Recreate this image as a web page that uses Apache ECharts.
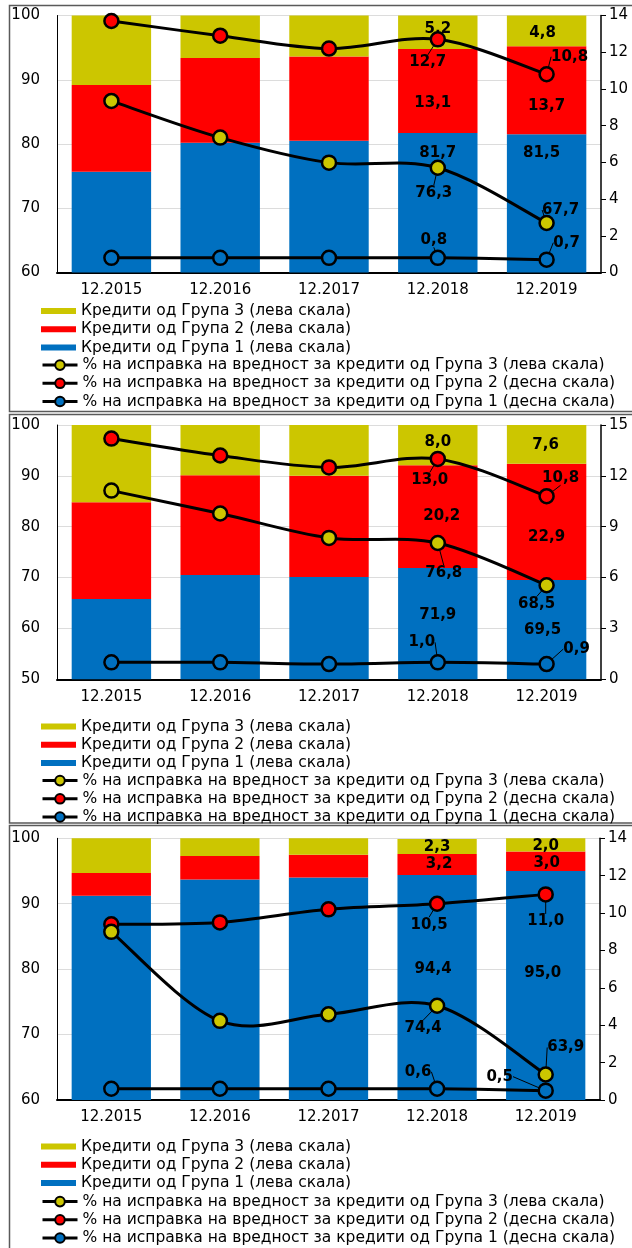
<!DOCTYPE html>
<html><head><meta charset="utf-8">
<script src="https://cdn.jsdelivr.net/npm/echarts@6/dist/echarts.min.js"></script>
<style>html,body{margin:0;padding:0;background:#fff}#c{width:632px;height:1248px}</style>
</head><body><div id="c"></div>
<script>
// ---------- DATA ----------
const categories = ['12.2015', '12.2016', '12.2017', '12.2018', '12.2019'];

const legendBars = ['Кредити од Група 3 (лева скала)', 'Кредити од Група 2 (лева скала)', 'Кредити од Група 1 (лева скала)'];
const legendLines = ['% на исправка на вредност за кредити од Група 3 (лева скала)',
  '% на исправка на вредност за кредити од Група 2 (десна скала)',
  '% на исправка на вредност за кредити од Група 1 (десна скала)'];

// Panel 1
const p1Group1 = [75.7, 80.2, 80.5, 81.7, 81.5];
const p1Group2 = [13.5, 13.2, 13.1, 13.1, 13.7];
const p1Group3 = [10.8, 6.6, 6.4, 5.2, 4.8];
const p1Prov3 = [86.7, 81.0, 77.1, 76.3, 67.7];
const p1Prov2 = [13.7, 12.9, 12.2, 12.7, 10.8];
const p1Prov1 = [0.8, 0.8, 0.8, 0.8, 0.7];
const p1LeftTicks = [60, 70, 80, 90, 100];
const p1RightTicks = [0, 2, 4, 6, 8, 10, 12, 14];

// Panel 2
const p2Group1 = [65.8, 70.5, 70.1, 71.9, 69.5];
const p2Group2 = [19.0, 19.6, 19.9, 20.2, 22.9];
const p2Group3 = [15.2, 9.9, 10.0, 8.0, 7.6];
const p2Prov3 = [87.1, 82.6, 77.8, 76.8, 68.5];
const p2Prov2 = [14.2, 13.2, 12.5, 13.0, 10.8];
const p2Prov1 = [1.0, 1.0, 0.9, 1.0, 0.9];
const p2LeftTicks = [50, 60, 70, 80, 90, 100];
const p2RightTicks = [0, 3, 6, 9, 12, 15];

// Panel 3
const p3Group1 = [91.2, 93.7, 94.0, 94.4, 95.0];
const p3Group2 = [3.5, 3.6, 3.5, 3.2, 3.0];
const p3Group3 = [5.3, 2.7, 2.5, 2.3, 2.0];
const p3Prov3 = [85.7, 72.1, 73.1, 74.4, 63.9];
const p3Prov2 = [9.4, 9.5, 10.2, 10.5, 11.0];
const p3Prov1 = [0.6, 0.6, 0.6, 0.6, 0.5];
const p3LeftTicks = [60, 70, 80, 90, 100];
const p3RightTicks = [0, 2, 4, 6, 8, 10, 12, 14];

// ---------- STYLE / LAYOUT ----------
const FONT = 'DejaVu Sans';
const C_YEL = '#CCC600', C_RED = '#FF0000', C_BLUE = '#0070C0';

const panels = [
  { g1: p1Group1, g2: p1Group2, g3: p1Group3, l3: p1Prov3, l2: p1Prov2, l1: p1Prov1, lt: p1LeftTicks, rt: p1RightTicks,
    top: 15.5, height: 257, right: 31, legTop: 302, legLineTop: 356, frame: [9.5, 5.5, 700, 406],
    barOff: { g3: [[0, -3], [-4, 2]], g2: [[-5, 12], [0, 16]], g1: [[0, -49.5], [-5, -50]] },
    lineOff: { l3: [[-4, 25], [14, -13]], l2: [[-10, 23], [23, -17.5]], l1: [[-4, -18], [20, -17]] } },
  { g1: p2Group1, g2: p2Group2, g3: p2Group3, l3: p2Prov3, l2: p2Prov2, l1: p2Prov1, lt: p2LeftTicks, rt: p2RightTicks,
    top: 425, height: 254.3, right: 31, legTop: 717.5, legLineTop: 771.5, frame: [9.5, 414.5, 700, 408.5],
    barOff: { g3: [[0, -3], [-1, 1]], g2: [[4, 0], [0, 15]], g1: [[0, -8], [-4, 0]] },
    lineOff: { l3: [[6, 30], [-10, 19]], l2: [[-8, 21], [14, -18.5]], l1: [[-16, -20], [30, -15]] } },
  { g1: p3Group1, g2: p3Group2, g3: p3Group3, l3: p3Prov3, l2: p3Prov2, l1: p3Prov1, lt: p3LeftTicks, rt: p3RightTicks,
    top: 838.3, height: 261.7, right: 32, legTop: 1137.5, legLineTop: 1192.5, frame: [9.5, 825.5, 700, 500],
    barOff: { g3: [[0, 1], [0, 1.5]], g2: [[2, 0], [1, 2]], g1: [[-4, -18], [-3, -12]] },
    lineOff: { l3: [[-14, 22], [20, -27]], l2: [[-8, 21], [0, 27]], l1: [[-19, -17], [-46, -14]] } }
];

function fmt(v) { return v.toFixed(1).replace('.', ','); }
const labelFont = { color: '#000', fontWeight: 'bold', fontSize: 15, fontFamily: FONT, textBorderWidth: 0 };

const grids = [], xAxes = [], yAxes = [], series = [], legends = [], graphics = [];

panels.forEach((P, p) => {
  grids.push({ left: 57, right: P.right, top: P.top, height: P.height });
  xAxes.push({
    type: 'category', gridIndex: p, data: categories,
    axisLine: { show: true, lineStyle: { color: '#000', width: 2 } },
    axisTick: { show: false },
    axisLabel: { color: '#000', fontSize: 15, fontFamily: FONT, margin: 10 }
  });
  const lt = P.lt, rt = P.rt;
  yAxes.push({
    type: 'value', gridIndex: p, position: 'left',
    min: lt[0], max: lt[lt.length - 1], interval: lt[1] - lt[0],
    axisLine: { show: true, lineStyle: { color: '#000', width: 1 } },
    axisTick: { show: false },
    axisLabel: { color: '#000', fontSize: 15, fontFamily: FONT, margin: 17 },
    splitLine: { show: true, lineStyle: { color: '#dcdcdc', width: 1 } }
  });
  yAxes.push({
    type: 'value', gridIndex: p, position: 'right',
    min: rt[0], max: rt[rt.length - 1], interval: rt[1] - rt[0],
    axisLine: { show: true, lineStyle: { color: '#000', width: 1.5 } },
    axisTick: { show: true, inside: false, length: 5, lineStyle: { color: '#000' } },
    axisLabel: { color: '#000', fontSize: 15, fontFamily: FONT, margin: 8 },
    splitLine: { show: false }
  });
  const yl = 2 * p, yr = 2 * p + 1;

  function bar(name, vals, color, offs) {
    return {
      type: 'bar', name, stack: 'st' + p, xAxisIndex: p, yAxisIndex: yl, barCategoryGap: '27%', z: 2,
      itemStyle: { color }, emphasis: { disabled: true },
      label: Object.assign({ show: false, position: 'inside' }, labelFont),
      data: vals.map((v, i) => i >= 3
        ? { value: v, label: Object.assign({ show: true, position: 'inside', offset: offs[i - 3], formatter: fmt(v) }, labelFont) }
        : v)
    };
  }
  series.push(bar(legendBars[2], P.g1, C_BLUE, P.barOff.g1));
  series.push(bar(legendBars[1], P.g2, C_RED, P.barOff.g2));
  series.push(bar(legendBars[0], P.g3, C_YEL, P.barOff.g3));

  function curve(vals, yi) {
    const n = vals.length;
    const cl = k => Math.max(0, Math.min(n - 1, k));
    return {
      type: 'custom', xAxisIndex: p, yAxisIndex: yi, z: 4, silent: true,
      data: vals.map((v, i) => [i, v]),
      renderItem: (params, api) => {
        const i = params.dataIndex;
        if (i >= n - 1) return null;
        const pt = k => api.coord([cl(k), vals[cl(k)]]);
        const a = pt(i - 1), b = pt(i), c = pt(i + 1), d = pt(i + 2);
        return {
          type: 'bezierCurve',
          shape: {
            x1: b[0], y1: b[1], x2: c[0], y2: c[1],
            cpx1: b[0] + (c[0] - a[0]) / 6, cpy1: b[1] + (c[1] - a[1]) / 6,
            cpx2: c[0] - (d[0] - b[0]) / 6, cpy2: c[1] - (d[1] - b[1]) / 6
          },
          style: { stroke: '#000', lineWidth: 3, fill: 'none', lineCap: 'round' }
        };
      }
    };
  }
  function points(name, vals, yi, fill, offs) {
    return {
      type: 'line', name, xAxisIndex: p, yAxisIndex: yi, z: 5,
      symbol: 'circle', symbolSize: 14, showSymbol: true,
      lineStyle: { width: 0, color: '#000' },
      itemStyle: { color: fill, borderColor: '#000', borderWidth: 2.5 },
      emphasis: { disabled: true },
      label: Object.assign({ show: false, position: 'inside', formatter: pr => fmt(pr.value) }, labelFont),
      labelLine: { show: true, lineStyle: { color: '#000', width: 1 } },
      labelLayout: pr => {
        if (pr.dataIndex < 3) return {};
        const o = offs[pr.dataIndex - 3];
        return { dx: o[0], dy: o[1] };
      },
      data: vals.map((v, i) => i >= 3 ? { value: v, label: { show: true } } : v)
    };
  }
  series.push(curve(P.l1, yr));
  series.push(curve(P.l2, yr));
  series.push(curve(P.l3, yl));
  series.push(points(legendLines[2], P.l1, yr, C_BLUE, P.lineOff.l1));
  series.push(points(legendLines[1], P.l2, yr, C_RED, P.lineOff.l2));
  series.push(points(legendLines[0], P.l3, yl, C_YEL, P.lineOff.l3));

  legends.push({
    orient: 'vertical', left: 41, top: P.legTop, itemWidth: 35, itemHeight: 6, itemGap: 0,
    icon: 'rect', selectedMode: false, data: legendBars, padding: 0,
    textStyle: { color: '#000', fontSize: 15.5, fontFamily: FONT, lineHeight: 18.2 }
  });
  legends.push({
    orient: 'vertical', left: 41, top: P.legLineTop, itemWidth: 35, itemHeight: 12, itemGap: 0,
    selectedMode: false, data: legendLines, padding: 0,
    lineStyle: { color: '#000', width: 3 },
    itemStyle: { borderColor: '#000', borderWidth: 2 },
    textStyle: { color: '#000', fontSize: 15.5, fontFamily: FONT, lineHeight: 18.2 }
  });
  const f = P.frame;
  graphics.push({
    type: 'rect', silent: true, z: -10,
    shape: { x: f[0], y: f[1], width: f[2], height: f[3] },
    style: { fill: 'none', stroke: '#5a5a5a', lineWidth: 1.5 }
  });
});

const chart = echarts.init(document.getElementById('c'), null, { renderer: 'canvas' });
chart.setOption({
  animation: false,
  backgroundColor: '#fff',
  textStyle: { fontFamily: FONT },
  grid: grids, xAxis: xAxes, yAxis: yAxes, series, legend: legends, graphic: graphics
});
</script></body></html>
